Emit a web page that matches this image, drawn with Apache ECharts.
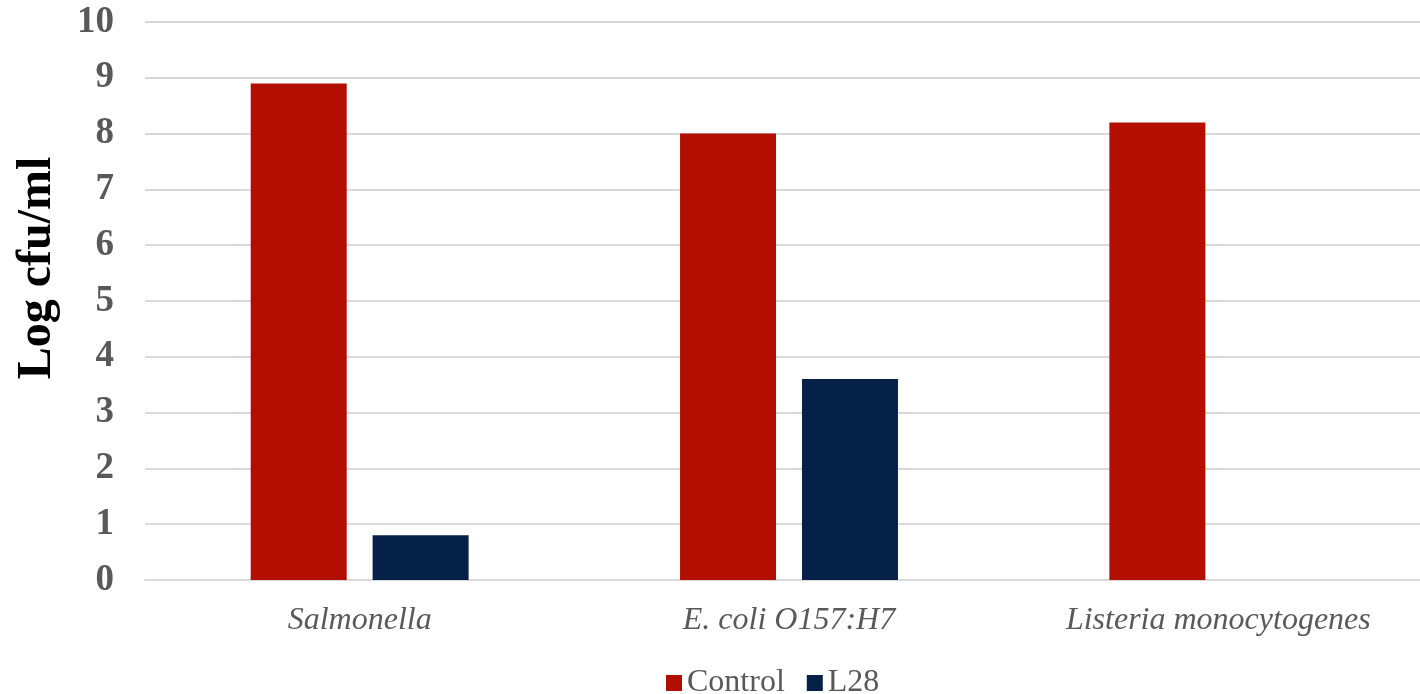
<!DOCTYPE html>
<html>
<head>
<meta charset="utf-8">
<script src="https://cdn.jsdelivr.net/npm/echarts@6/dist/echarts.min.js"></script>
<style>
  html, body { margin: 0; padding: 0; background: #fff; }
  #chart { width: 1420px; height: 694px; }
</style>
</head>
<body>
<div id="chart"></div>
<script>
// data
var categories = ['Salmonella', 'E. coli O157:H7', 'Listeria monocytogenes'];
var controlValues = [8.9, 8.0, 8.2];
var l28Values = [0.8, 3.6, 0];
var yTicks = [0, 10, 1]; // min, max, step

var chart = echarts.init(document.getElementById('chart'));
var font = '"Liberation Serif", "Times New Roman", serif';

var option = {
  animation: false,
  textStyle: { fontFamily: font },
  grid: { left: 145, width: 1288, top: 22, bottom: 114, outerBoundsMode: 'none' },
  legend: {
    top: 662,
    left: 661,
    itemWidth: 16,
    itemHeight: 16,
    itemGap: 22,
    icon: 'rect',
    textStyle: { fontFamily: font, fontSize: 32, color: '#595959' },
    data: ['Control', 'L28']
  },
  xAxis: {
    type: 'category',
    data: categories,
    axisTick: { show: false },
    axisLine: { lineStyle: { color: '#d9d9d9', width: 2 } },
    axisLabel: {
      fontFamily: font, fontStyle: 'italic', fontSize: 32,
      color: '#595959', margin: 25
    }
  },
  yAxis: {
    type: 'value',
    min: yTicks[0],
    max: yTicks[1],
    interval: yTicks[2],
    name: 'Log cfu/ml',
    nameLocation: 'middle',
    nameGap: 83,
    nameRotate: 90,
    nameTextStyle: {
      fontFamily: font, fontWeight: 'bold', fontSize: 48, color: '#000',
      padding: [0, 0, 0, 66]
    },
    axisLine: { show: false },
    axisTick: { show: false },
    splitLine: { lineStyle: { color: '#d9d9d9', width: 2 } },
    axisLabel: {
      fontFamily: font, fontWeight: 'bold', fontSize: 37,
      color: '#595959', margin: 31
    }
  },
  series: [
    {
      name: 'Control',
      type: 'bar',
      data: controlValues,
      barWidth: 96,
      barGap: '27%',
      itemStyle: { color: '#b30f00' }
    },
    {
      name: 'L28',
      type: 'bar',
      data: l28Values,
      barWidth: 96,
      itemStyle: { color: '#062147' }
    }
  ]
};

chart.setOption(option);
</script>
</body>
</html>
